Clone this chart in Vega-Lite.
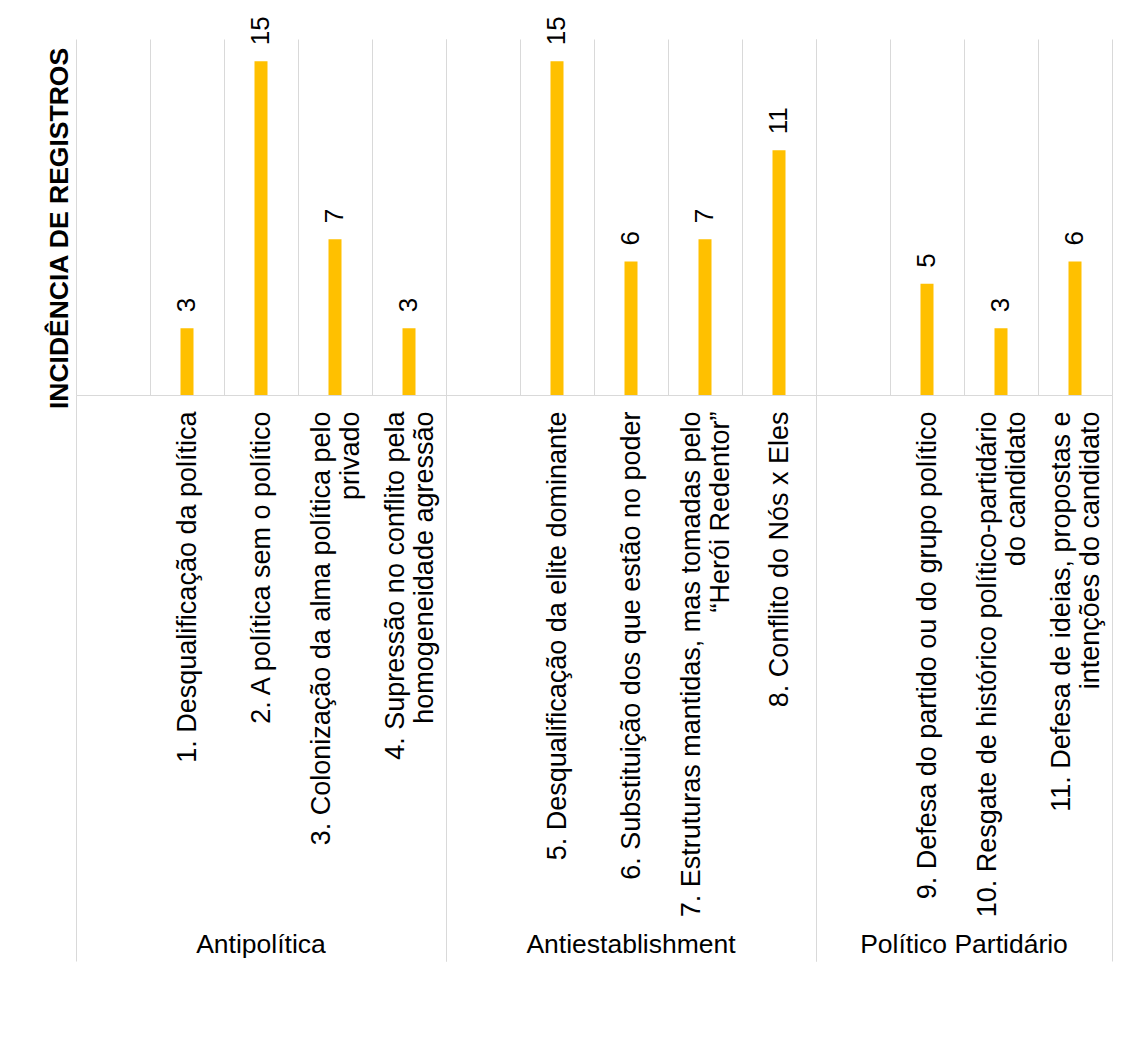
{
  "$schema": "https://vega.github.io/schema/vega-lite/v6.json",
  "padding": {"left": 46, "top": 16, "right": 0, "bottom": 0},
  "background": "white",
  "bounds": "flush",
  "data": {"values": [
    {"grupo": "Antipolítica", "categoria": "_1", "valor": null},
    {"grupo": "Antipolítica", "categoria": "1. Desqualificação da política", "valor": 3},
    {"grupo": "Antipolítica", "categoria": "2. A política sem o político", "valor": 15},
    {"grupo": "Antipolítica", "categoria": "3. Colonização da alma política pelo\nprivado", "valor": 7},
    {"grupo": "Antipolítica", "categoria": "4. Supressão no conflito pela\nhomogeneidade agressão", "valor": 3},
    {"grupo": "Antiestablishment", "categoria": "_2", "valor": null},
    {"grupo": "Antiestablishment", "categoria": "5. Desqualificação da elite dominante", "valor": 15},
    {"grupo": "Antiestablishment", "categoria": "6. Substituição dos que estão no poder", "valor": 6},
    {"grupo": "Antiestablishment", "categoria": "7. Estruturas mantidas, mas tomadas pelo\n“Herói Redentor”", "valor": 7},
    {"grupo": "Antiestablishment", "categoria": "8. Conflito do Nós x Eles", "valor": 11},
    {"grupo": "Político Partidário", "categoria": "_3", "valor": null},
    {"grupo": "Político Partidário", "categoria": "9. Defesa do partido ou do grupo político", "valor": 5},
    {"grupo": "Político Partidário", "categoria": "10. Resgate de histórico político-partidário\ndo candidato", "valor": 3},
    {"grupo": "Político Partidário", "categoria": "11. Defesa de ideias, propostas e\nintenções do candidato", "valor": 6}
  ]},
  "facet": {
    "column": {
      "field": "grupo",
      "type": "nominal",
      "sort": ["Antipolítica", "Antiestablishment", "Político Partidário"],
      "header": {
        "title": null,
        "labelOrient": "bottom",
        "labelFont": "Liberation Sans",
        "labelFontSize": 26.5,
        "labelColor": "#000000",
        "labelPadding": 537
      }
    }
  },
  "spacing": 0,
  "resolve": {"scale": {"x": "independent"}},
  "spec": {
    "width": {"step": 74},
    "height": 356,
    "encoding": {
      "x": {
        "field": "categoria",
        "type": "nominal",
        "sort": null,
        "scale": {"paddingInner": 0, "paddingOuter": 0},
        "axis": {
          "title": null,
          "tickBand": "extent",
          "grid": true,
          "gridColor": "#d9d9d9",
          "gridWidth": 1,
          "domain": true,
          "domainColor": "#d9d9d9",
          "domainWidth": 1,
          "ticks": true,
          "tickSize": 566,
          "tickColor": "#d9d9d9",
          "tickWidth": 1,
          "tickOpacity": {"condition": {"test": "datum.extra || (isString(datum.value) && (indexof(datum.value, '4.') == 0 || indexof(datum.value, '8.') == 0 || indexof(datum.value, '11.') == 0))", "value": 1}, "value": 0},
          "labelAngle": 270,
          "labelAlign": "right",
          "labelBaseline": "middle",
          "labelPadding": -550,
          "labelOffset": {"condition": {"test": "isString(datum.value) && indexof(datum.value, '\\n') >= 0", "value": -14}, "value": 0},
          "labelExpr": "isString(datum.value) && indexof(datum.value, '_') != 0 ? split(datum.value, '\\n') : ''",
          "labelFont": "Liberation Sans",
          "labelFontSize": 27,
          "labelColor": "#000000",
          "labelLineHeight": 29,
          "labelLimit": 0,
          "labelOverlap": false,
          "labelBound": false,
          "labelFlush": false
        }
      }
    },
    "layer": [
      {
        "mark": {"type": "text", "opacity": 0},
        "encoding": {"y": {"datum": 0, "type": "quantitative"}, "text": {"value": ""}}
      },
      {
        "mark": {"type": "bar", "color": "#FFC000", "width": 13},
        "encoding": {
          "y": {
            "field": "valor",
            "type": "quantitative",
            "scale": {"domain": [0, 16], "nice": false},
            "axis": {
              "title": "INCIDÊNCIA DE REGISTROS",
              "labels": false,
              "ticks": false,
              "domain": false,
              "grid": false,
              "titleFont": "Liberation Sans",
              "titleFontSize": 26.5,
              "titleFontWeight": "bold",
              "titleColor": "#000000",
              "titlePadding": 3,
              "titleY": 189
            }
          }
        }
      },
      {
        "mark": {"type": "text", "angle": 270, "align": "left", "baseline": "middle", "dx": 16, "font": "Liberation Sans", "fontSize": 26, "color": "#000000"},
        "encoding": {
          "y": {"field": "valor", "type": "quantitative"},
          "text": {"field": "valor", "type": "quantitative"}
        }
      }
    ]
  },
  "config": {"view": {"stroke": null}}
}
